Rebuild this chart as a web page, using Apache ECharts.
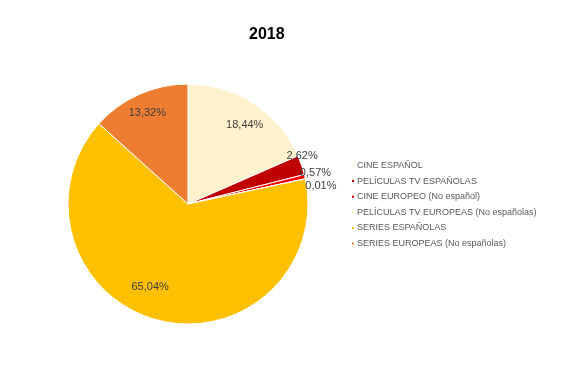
<!DOCTYPE html>
<html><head><meta charset="utf-8">
<script src="https://cdn.jsdelivr.net/npm/echarts@6/dist/echarts.min.js"></script>
<style>html,body{margin:0;padding:0;background:#fff}#c{width:562px;height:370px}</style>
</head><body><div id="c"></div>
<script>
const categories = ["CINE ESPAÑOL","PELÍCULAS TV ESPAÑOLAS","CINE EUROPEO (No español)","PELÍCULAS TV EUROPEAS (No españolas)","SERIES ESPAÑOLAS","SERIES EUROPEAS (No españolas)"];
const values = [18.44, 2.62, 0.57, 0.01, 65.04, 13.32];
const colors = ["#FFF2CC","#C00000","#FF0000","#FFE699","#FFC000","#ED7D31"];
const labelInside = [true, false, false, false, true, true];
const labelNudge = [[2,5],[-20,-9],[-10,-4],[-5,7],[-12,-14],[0,0]];

const fmt = p => p.value.toFixed(2).replace('.', ',') + '%';
const chart = echarts.init(document.getElementById('c'));
chart.setOption({
  animation: false,
  title: {text: '2018', left: 244, top: 22,
    textStyle: {fontFamily: 'Liberation Sans, Arial', fontSize: 16, fontWeight: 'bold', color: '#000'}},
  color: colors,
  legend: {
    orient: 'vertical', left: 345, top: 156, itemGap: 6.6, itemWidth: 4, itemHeight: 4,
    icon: 'rect', selectedMode: false,
    textStyle: {fontFamily: 'Liberation Sans, Arial', fontSize: 9, color: '#595959', padding: [0,0,0,-3]},
    data: categories
  },
  series: [{
    type: 'pie', center: [188, 204], radius: 120, startAngle: 90, clockwise: true,
    avoidLabelOverlap: false,
    itemStyle: {borderColor: '#fff', borderWidth: 1},
    label: {show: false},
    labelLine: {show: false},
    data: categories.map((c, i) => ({name: c, value: values[i]}))
  }, {
    type: 'pie', center: [188, 204], radius: [74, 120], startAngle: 90, clockwise: true,
    silent: true, avoidLabelOverlap: false, minShowLabelAngle: 0,
    itemStyle: {color: 'rgba(0,0,0,0)', borderWidth: 0},
    label: {fontFamily: 'Liberation Sans, Arial', fontSize: 11, color: '#404040', formatter: fmt},
    labelLine: {show: false, length: 0, length2: 0},
    labelLayout: p => ({dx: labelNudge[p.dataIndex][0], dy: labelNudge[p.dataIndex][1], hideOverlap: false}),
    data: categories.map((c, i) => ({
      name: c, value: values[i],
      label: {position: labelInside[i] ? 'inside' : 'outside', distanceToLabelLine: 5}
    }))
  }]
});
</script></body></html>
